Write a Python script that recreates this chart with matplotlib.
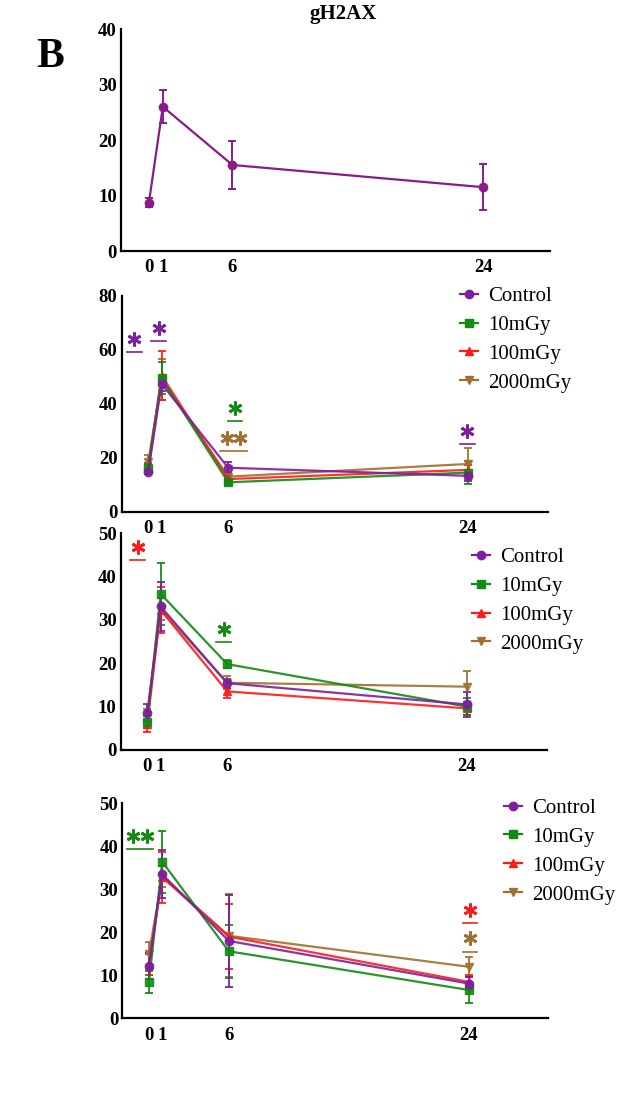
import numpy as np
import matplotlib.pyplot as plt
from matplotlib.lines import Line2D

plt.rcParams['font.family'] = ['Liberation Serif', 'DejaVu Serif']

# time points (h)
times = [0, 1, 6, 24]
groups = ['Control', '10mGy', '100mGy', '2000mGy']

# panel 1 - single control series
p1_mean = [8.7, 26.0, 15.5, 11.5]
p1_err = [0.8, 3.0, 4.4, 4.2]

# panel 2
p2_mean = {
    'Control': [14.8, 47.4, 16.3, 13.3],
    '10mGy': [16.3, 49.5, 10.9, 14.5],
    '100mGy': [16.5, 50.5, 12.1, 15.5],
    '2000mGy': [18.5, 49.0, 13.0, 17.7],
}
p2_err = {
    'Control': [1.0, 2.5, 2.0, 2.0],
    '10mGy': [1.5, 6.0, 1.0, 4.3],
    '100mGy': [1.5, 9.0, 1.0, 2.0],
    '2000mGy': [2.5, 7.5, 1.0, 5.8],
}

# panel 3
p3_mean = {
    'Control': [8.6, 33.1, 15.4, 10.5],
    '10mGy': [6.5, 36.0, 19.8, 10.0],
    '100mGy': [6.0, 32.3, 13.5, 9.6],
    '2000mGy': [8.0, 32.5, 15.5, 14.6],
}
p3_err = {
    'Control': [2.0, 5.7, 1.0, 2.9],
    '10mGy': [1.5, 7.2, 1.0, 2.0],
    '100mGy': [1.8, 5.3, 1.5, 1.5],
    '2000mGy': [1.5, 2.5, 1.5, 3.7],
}

# panel 4
p4_mean = {
    'Control': [12.2, 33.5, 18.0, 8.1],
    '10mGy': [8.5, 36.4, 15.6, 6.6],
    '100mGy': [12.5, 32.8, 19.0, 8.5],
    '2000mGy': [15.0, 33.0, 19.2, 12.0],
}
p4_err = {
    'Control': [3.1, 5.6, 10.6, 1.6],
    '10mGy': [2.5, 7.2, 6.2, 3.0],
    '100mGy': [2.5, 5.9, 7.5, 1.5],
    '2000mGy': [2.8, 2.5, 9.7, 2.2],
}

colors = {'Control': '#7d1f9e', '10mGy': '#138a13', '100mGy': '#ff1a1a', '2000mGy': '#a0702e'}
markers = {'Control': 'o', '10mGy': 's', '100mGy': '^', '2000mGy': 'v'}

# significance marks: (x, line y, n stars, colour key)
p2_sig = [(-1.05, 59.2, 1, 'Control'), (0.77, 63.3, 1, 'Control'),
          (6.5, 33.6, 1, '10mGy'), (6.4, 22.5, 2, '2000mGy'), (23.95, 25.1, 1, 'Control')]
p3_sig = [(-0.73, 43.8, 1, '100mGy'), (5.72, 24.9, 1, '10mGy')]
p4_sig = [(-0.68, 39.3, 2, '10mGy'), (24.1, 22.2, 1, '100mGy'), (24.1, 15.5, 1, '2000mGy')]

fig = plt.figure(figsize=(6.37, 10.99), dpi=100)

def style_axes(ax, ymax, xmax):
    ax.set_xlim(-2, xmax)
    ax.set_ylim(0, ymax)
    ax.spines['top'].set_visible(False)
    ax.spines['right'].set_visible(False)
    ax.spines['left'].set_linewidth(1.6)
    ax.spines['bottom'].set_linewidth(1.6)
    ax.set_xticks(times)
    ax.set_yticks(np.arange(0, ymax + 1, 10 if ymax <= 50 else 20))
    ax.tick_params(length=0, labelsize=13.5, pad=3)
    ax.tick_params(axis='x', pad=6)
    for lab in ax.get_xticklabels() + ax.get_yticklabels():
        lab.set_fontweight('bold')

def draw_sig(ax, sig, ymax):
    for x, y, n, key in sig:
        half = 0.55 if n == 1 else 1.0
        ax.plot([x - half, x + half], [y, y], color=colors[key], lw=1.2, clip_on=False)
        off = ymax * 0.062
        xs = [x] if n == 1 else [x - 0.52, x + 0.52]
        ax.plot(xs, [y + off] * n, ls='none', marker=(6, 2, 0), ms=10, mew=2.0,
                color=colors[key], clip_on=False)

def draw_groups(ax, means, errs):
    for g in groups[::-1]:
        ax.errorbar(times, means[g], yerr=errs[g], color=colors[g], marker=markers[g],
                    ms=6, lw=1.6, elinewidth=1.4, capsize=3, capthick=1.4, alpha=0.9)
    return [Line2D([], [], color=colors[g], marker=markers[g], ms=6, lw=1.6) for g in groups]

# panel 1
ax1 = fig.add_axes([0.190, 0.7716, 0.6735, 0.2020])
ax1.errorbar(times, p1_mean, yerr=p1_err, color='#8b1a8b', marker='o', ms=6, lw=1.6,
             elinewidth=1.4, capsize=3, capthick=1.4)
style_axes(ax1, 40, 28.8)

panels = [
    ([0.191, 0.5344, 0.669, 0.1963], 80, p2_mean, p2_err, p2_sig, (0.794, 1.045)),
    ([0.1895, 0.3176, 0.669, 0.1972], 50, p3_mean, p3_err, p3_sig, (0.824, 0.935)),
    ([0.192, 0.0734, 0.669, 0.1956], 50, p4_mean, p4_err, p4_sig, (0.896, 1.024)),
]
for rect, ymax, means, errs, sig, anchor in panels:
    ax = fig.add_axes(rect)
    hs = draw_groups(ax, means, errs)
    style_axes(ax, ymax, 30)
    draw_sig(ax, sig, ymax)
    ax.legend(hs, groups, loc='upper left', bbox_to_anchor=anchor, frameon=False,
              fontsize=15, borderpad=0, borderaxespad=0, handlelength=0.85,
              handletextpad=0.5, labelspacing=0.45)

fig.text(0.539, 0.987, 'gH2AX', ha='center', va='center', fontsize=15, fontweight='bold')
fig.text(0.078, 0.948, 'B', ha='center', va='center', fontsize=30, fontweight='bold')

fig.savefig('out.png', dpi=100)
